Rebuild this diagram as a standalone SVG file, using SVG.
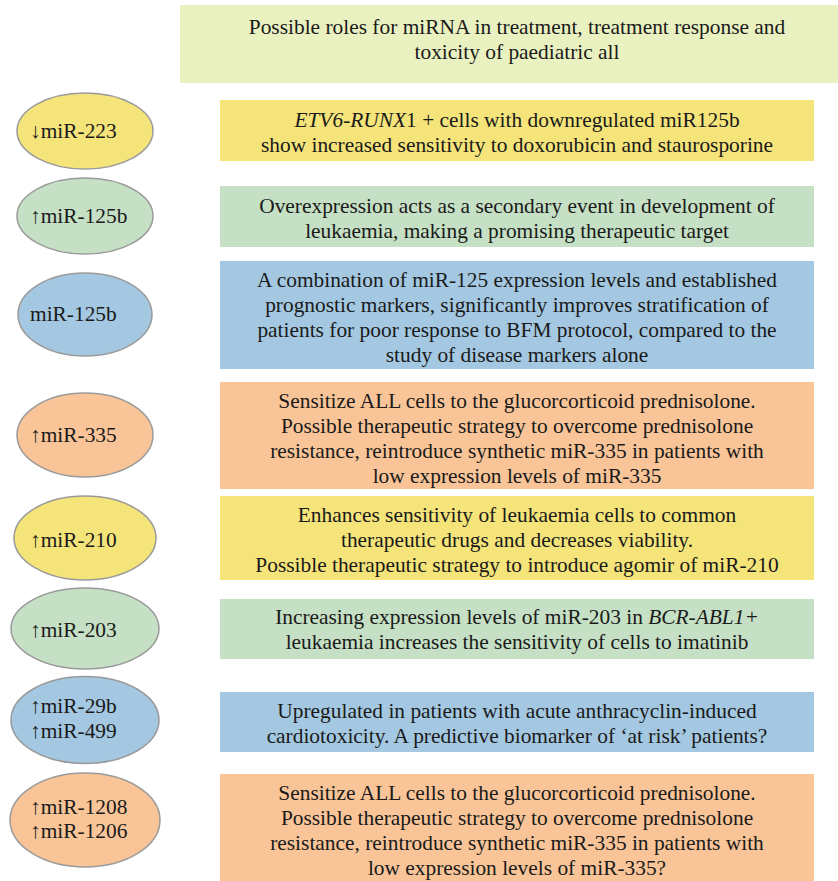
<svg xmlns="http://www.w3.org/2000/svg" width="838" height="881" viewBox="0 0 838 881">
<style>
text{font-size:21.4px;fill:#1a1a1a}
.c{text-anchor:middle}
.el{stroke:#9a9a9a;stroke-width:1.5}
.ttl{fill:#EAF1C1}
.y{fill:#F5E47A}
.g{fill:#C5E0C4}
.b{fill:#A4C8E1}
.o{fill:#F9C598}
.i{font-style:italic}
</style>
<rect width="838" height="881" fill="#ffffff"/>
<g font-family="Liberation Serif, DejaVu Serif, serif">
<g id="title">
<rect class="ttl" x="180" y="5" width="658" height="78"/>
<text class="c" x="517" y="34">Possible roles for miRNA in treatment, treatment response and</text>
<text class="c" x="517" y="59">toxicity of paediatric all</text>
</g>
<g id="node1">
<ellipse class="el y" cx="85" cy="131" rx="68" ry="38"/>
<text x="30" y="138">↓miR-223</text>
<rect class="y" x="220" y="100" width="594" height="61"/>
<text class="c" x="517" y="127"><tspan class="i">ETV6-RUNX</tspan>1 + cells with downregulated miR125b</text>
<text class="c" x="517" y="152">show increased sensitivity to doxorubicin and staurosporine</text>
</g>
<g id="node2">
<ellipse class="el g" cx="85" cy="216" rx="68" ry="38"/>
<text x="30" y="223">↑miR-125b</text>
<rect class="g" x="220" y="186" width="594" height="61"/>
<text class="c" x="517" y="213">Overexpression acts as a secondary event in development of</text>
<text class="c" x="517" y="238">leukaemia, making a promising therapeutic target</text>
</g>
<g id="node3">
<ellipse class="el b" cx="85" cy="314.5" rx="67" ry="41.5"/>
<text x="30" y="321">miR-125b</text>
<rect class="b" x="220" y="261" width="594" height="108"/>
<text class="c" x="517" y="287">A combination of miR-125 expression levels and established</text>
<text class="c" x="517" y="312">prognostic markers, significantly improves stratification of</text>
<text class="c" x="517" y="337">patients for poor response to BFM protocol, compared to the</text>
<text class="c" x="517" y="362">study of disease markers alone</text>
</g>
<g id="node4">
<ellipse class="el o" cx="85" cy="435" rx="68" ry="42"/>
<text x="30" y="442">↑miR-335</text>
<rect class="o" x="220" y="382" width="594" height="107"/>
<text class="c" x="517" y="408">Sensitize ALL cells to the glucorcorticoid prednisolone.</text>
<text class="c" x="517" y="433">Possible therapeutic strategy to overcome prednisolone</text>
<text class="c" x="517" y="458">resistance, reintroduce synthetic miR-335 in patients with</text>
<text class="c" x="517" y="483">low expression levels of miR-335</text>
</g>
<g id="node5">
<ellipse class="el y" cx="85" cy="538" rx="71" ry="42"/>
<text x="30" y="547">↑miR-210</text>
<rect class="y" x="220" y="496" width="594" height="84"/>
<text class="c" x="517" y="522">Enhances sensitivity of leukaemia cells to common</text>
<text class="c" x="517" y="547">therapeutic drugs and decreases viability.</text>
<text class="c" x="517" y="572">Possible therapeutic strategy to introduce agomir of miR-210</text>
</g>
<g id="node6">
<ellipse class="el g" cx="85" cy="628.5" rx="74" ry="40.5"/>
<text x="30" y="637">↑miR-203</text>
<rect class="g" x="220" y="599" width="594" height="60"/>
<text class="c" x="517" y="624">Increasing expression levels of miR-203 in <tspan class="i">BCR-ABL1+</tspan></text>
<text class="c" x="517" y="649">leukaemia increases the sensitivity of cells to imatinib</text>
</g>
<g id="node7">
<ellipse class="el b" cx="85" cy="720" rx="74" ry="43.5"/>
<text x="30" y="713">↑miR-29b</text>
<text x="30" y="738">↑miR-499</text>
<rect class="b" x="220" y="692" width="594" height="60"/>
<text class="c" x="517" y="718">Upregulated in patients with acute anthracyclin-induced</text>
<text class="c" x="517" y="743">cardiotoxicity. A predictive biomarker of ‘at risk’ patients?</text>
</g>
<g id="node8">
<ellipse class="el o" cx="85" cy="820" rx="75" ry="47"/>
<text x="30" y="814">↑miR-1208</text>
<text x="30" y="838">↑miR-1206</text>
<rect class="o" x="220" y="774" width="594" height="107"/>
<text class="c" x="517" y="800">Sensitize ALL cells to the glucorcorticoid prednisolone.</text>
<text class="c" x="517" y="825">Possible therapeutic strategy to overcome prednisolone</text>
<text class="c" x="517" y="850">resistance, reintroduce synthetic miR-335 in patients with</text>
<text class="c" x="517" y="875">low expression levels of miR-335?</text>
</g>
</g>
<g id="connectors"/>
</svg>
